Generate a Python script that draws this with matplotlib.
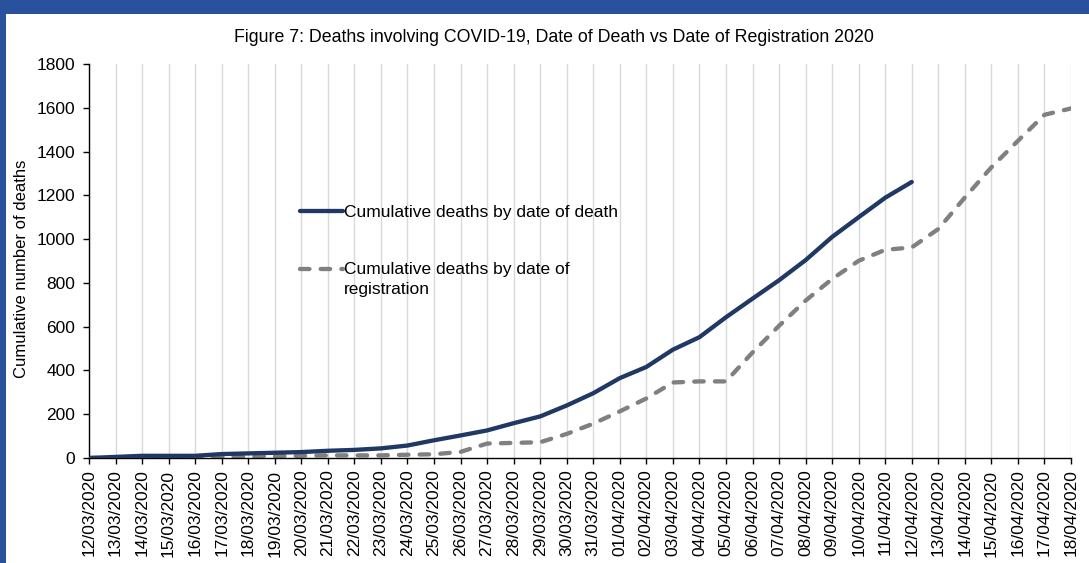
import matplotlib
matplotlib.use("Agg")
import matplotlib.pyplot as plt
from matplotlib.patches import Rectangle
from matplotlib.lines import Line2D
from matplotlib.legend_handler import HandlerLine2D
import numpy as np
import pandas as pd

plt.rcParams['font.family'] = ['Liberation Sans', 'DejaVu Sans']

dates = pd.date_range("2020-03-12", "2020-04-18", freq="D")
date_labels = [d.strftime("%d/%m/%Y") for d in dates]

# Cumulative deaths by date of death (12/03 .. 12/04)
by_death = [0, 5, 10, 10, 10, 18, 21, 24, 27, 33, 37, 44, 57, 81, 103, 126,
            159, 190, 240, 296, 365, 416, 495, 552, 643, 728, 812, 904,
            1010, 1100, 1189, 1261]
# Cumulative deaths by date of registration (12/03 .. 18/04)
by_reg = [0, 1, 2, 3, 4, 5, 6, 8, 10, 12, 12, 12, 15, 17, 28, 66,
          69, 72, 110, 157, 213, 272, 345, 350, 350, 482, 604, 719,
          818, 901, 951, 962, 1046, 1190, 1328, 1449, 1568, 1597]

yticks = list(range(0, 1801, 200))

FS = 12.5


class OffsetLineHandler(HandlerLine2D):
    def __init__(self, dy=0.0, **kw):
        super().__init__(**kw)
        self.dy = dy

    def create_artists(self, legend, orig_handle, xdescent, ydescent, width,
                       height, fontsize, trans):
        artists = super().create_artists(legend, orig_handle, xdescent, ydescent,
                                         width, height, fontsize, trans)
        for a in artists:
            if isinstance(a, Line2D):
                a.set_ydata(np.asarray(a.get_ydata(), dtype=float) + self.dy)
        return artists


fig = plt.figure(figsize=(10.89, 5.63), dpi=100)
fig.patch.set_facecolor("white")

# blue frame (top and left)
fig.patches.append(Rectangle((0, 1 - 14 / 563), 1, 14 / 563, transform=fig.transFigure,
                             facecolor="#2A519B", edgecolor="none", zorder=0))
fig.patches.append(Rectangle((0, 0), 6 / 1089, 1, transform=fig.transFigure,
                             facecolor="#2A519B", edgecolor="none", zorder=0))

ax = fig.add_axes([89 / 1089, 1 - 458 / 563, (1071 - 89) / 1089, (458 - 64) / 563])

x = list(range(len(dates)))
l1, = ax.plot(x[:len(by_death)], by_death, color="#203864", lw=3.1, solid_capstyle="round",
              label="Cumulative deaths by date of death", zorder=3)
l2, = ax.plot(x[:len(by_reg)], by_reg, color="#808080", lw=3.1, dashes=(2.2, 2.6),
              dash_capstyle="round", label="Cumulative deaths by date of\nregistration", zorder=2)

ax.set_xlim(0, len(dates) - 1)
ax.set_ylim(0, 1800)
ax.set_xticks(x)
ax.set_xticklabels(date_labels, rotation=90, fontsize=FS, color="#000000")
ax.set_yticks(yticks)
ax.set_yticklabels([str(v) for v in yticks], fontsize=FS)
ax.tick_params(axis="both", direction="out", length=4.3, width=1, color="#000000")
ax.tick_params(axis="x", pad=4)
ax.tick_params(axis="y", pad=5.5)

ax.grid(axis="x", color="#D9D9D9", lw=1)
ax.grid(axis="y", visible=False)
ax.set_axisbelow(True)
for s in ["top", "right"]:
    ax.spines[s].set_visible(False)
for s in ["left", "bottom"]:
    ax.spines[s].set_color("#000000")
    ax.spines[s].set_linewidth(1)

ax.set_ylabel("Cumulative number of deaths", fontsize=12)
ax.yaxis.set_label_coords(-(89 - 29) / 982, (458 - 269) / 394)

leg = ax.legend(handles=[l1, l2], loc="upper left",
                bbox_to_anchor=((300 - 89) / 982, (458 - 205) / 394),
                frameon=False, fontsize=FS, handlelength=2.45, handletextpad=0.08,
                labelspacing=2.4, borderaxespad=0, borderpad=0,
                handler_map={l2: OffsetLineHandler(dy=0.6 * FS)})
for t in leg.get_texts():
    t.set_linespacing(1.45)

fig.text(554 / 1089, 1 - 37 / 563,
         "Figure 7: Deaths involving COVID-19, Date of Death vs Date of Registration 2020",
         ha="center", va="center", fontsize=12.8)

fig.savefig("out.png", dpi=100, facecolor="white")
